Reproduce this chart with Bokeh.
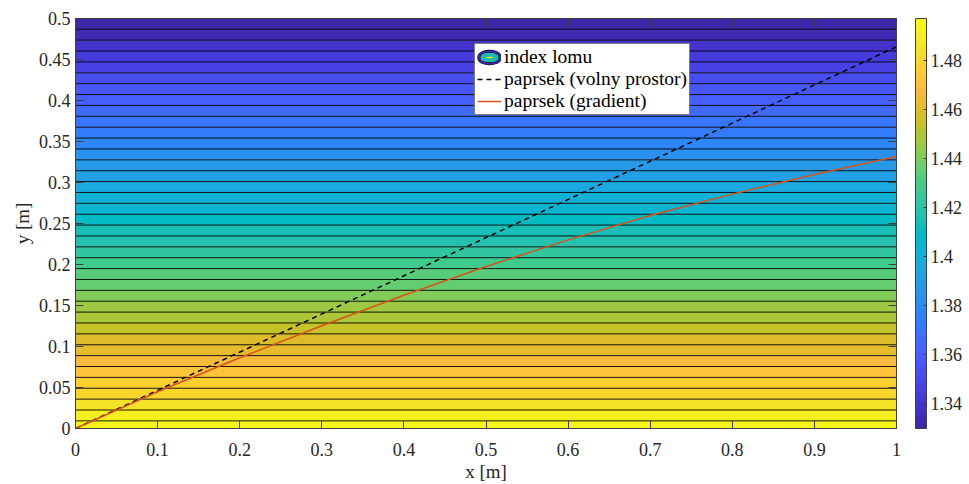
import numpy as np
from bokeh.plotting import figure
from bokeh.models import (Range1d, LinearAxis, FixedTicker, CustomJSTickFormatter, ColumnDataSource,
                          LinearColorMapper, ColorBar, Legend, LegendItem)
from bokeh.transform import transform
from bokeh.embed import file_html
from bokeh.resources import INLINE

# ---------------- data ----------------
# refractive-index profile n(y) (independent of x)
profile_y = [0.0, 0.5]
profile_n = [1.497, 1.33]
# contour levels of the index (equally spaced)
n_levels = np.round(np.linspace(1.3344, 1.4939, 37), 5)

# ray in free space (straight)
ray_free_x = [0.0, 1.0]
ray_free_y = [0.0, 0.4655]
# ray in the gradient medium
ray_grad_x = [0.0, 0.1, 0.2, 0.3, 0.4, 0.5, 0.6, 0.7, 0.8, 0.9, 1.0]
ray_grad_y = [0.0, 0.0448, 0.0862, 0.1253, 0.1625, 0.1975, 0.2300, 0.2597, 0.2858, 0.3098, 0.3317]

x_ticks = [0, 0.1, 0.2, 0.3, 0.4, 0.5, 0.6, 0.7, 0.8, 0.9, 1]
y_ticks = [0, 0.05, 0.1, 0.15, 0.2, 0.25, 0.3, 0.35, 0.4, 0.45, 0.5]
cb_ticks = [1.34, 1.36, 1.38, 1.4, 1.42, 1.44, 1.46, 1.48]

x_label = "x [m]"
y_label = "y [m]"
legend_labels = ["index lomu", "paprsek (volny prostor)", "paprsek (gradient)"]

# MATLAB parula (64)
parula_rgb = [
    (0.2422, 0.1504, 0.6603), (0.2504, 0.1650, 0.7076), (0.2578, 0.1818, 0.7511), (0.2647, 0.1978, 0.7952),
    (0.2706, 0.2147, 0.8364), (0.2751, 0.2342, 0.8710), (0.2783, 0.2559, 0.8991), (0.2803, 0.2782, 0.9221),
    (0.2813, 0.3006, 0.9414), (0.2810, 0.3228, 0.9579), (0.2795, 0.3447, 0.9717), (0.2760, 0.3667, 0.9829),
    (0.2699, 0.3892, 0.9906), (0.2602, 0.4123, 0.9952), (0.2440, 0.4358, 0.9988), (0.2206, 0.4603, 0.9973),
    (0.1963, 0.4847, 0.9892), (0.1834, 0.5074, 0.9798), (0.1786, 0.5289, 0.9682), (0.1764, 0.5499, 0.9520),
    (0.1687, 0.5703, 0.9359), (0.1540, 0.5902, 0.9218), (0.1460, 0.6091, 0.9079), (0.1380, 0.6276, 0.8973),
    (0.1248, 0.6459, 0.8883), (0.1113, 0.6635, 0.8763), (0.0952, 0.6798, 0.8598), (0.0689, 0.6948, 0.8394),
    (0.0297, 0.7082, 0.8163), (0.0036, 0.7203, 0.7917), (0.0067, 0.7312, 0.7660), (0.0433, 0.7411, 0.7394),
    (0.0964, 0.7500, 0.7120), (0.1408, 0.7584, 0.6842), (0.1717, 0.7670, 0.6554), (0.1938, 0.7758, 0.6251),
    (0.2161, 0.7843, 0.5923), (0.2470, 0.7918, 0.5567), (0.2906, 0.7973, 0.5188), (0.3406, 0.8008, 0.4789),
    (0.3909, 0.8029, 0.4354), (0.4456, 0.8024, 0.3909), (0.5044, 0.7993, 0.3480), (0.5616, 0.7942, 0.3045),
    (0.6174, 0.7876, 0.2612), (0.6720, 0.7793, 0.2227), (0.7242, 0.7698, 0.1910), (0.7738, 0.7598, 0.1646),
    (0.8203, 0.7498, 0.1535), (0.8634, 0.7406, 0.1596), (0.9035, 0.7330, 0.1774), (0.9393, 0.7288, 0.2100),
    (0.9728, 0.7298, 0.2394), (0.9956, 0.7434, 0.2371), (0.9970, 0.7659, 0.2199), (0.9952, 0.7893, 0.2028),
    (0.9892, 0.8136, 0.1885), (0.9786, 0.8386, 0.1766), (0.9676, 0.8639, 0.1643), (0.9610, 0.8890, 0.1537),
    (0.9597, 0.9135, 0.1423), (0.9628, 0.9373, 0.1265), (0.9691, 0.9606, 0.1064), (0.9769, 0.9839, 0.0805),
]
parula = ["#%02x%02x%02x" % tuple(int(round(c * 255)) for c in rgb) for rgb in parula_rgb]

FONT = "Liberation Serif"
TXT = "#262626"

# ---------------- derived band geometry (through interpolation of the profile) ----------------
prof_n_asc = np.array(profile_n[::-1])
prof_y_asc = np.array(profile_y[::-1])
level_y = np.sort(np.interp(n_levels, prof_n_asc, prof_y_asc))
edges = np.concatenate([[profile_y[0]], level_y, [profile_y[-1]]])
band_bottom = edges[:-1]
band_top = edges[1:]
band_val = np.interp(band_top, profile_y, profile_n)  # lower index value of each band

mapper = LinearColorMapper(palette=parula, low=min(profile_n), high=max(profile_n))

p = figure(frame_width=821, frame_height=410,
           x_range=Range1d(0, 1), y_range=Range1d(0, 0.5),
           output_backend="svg", toolbar_location=None,
           min_border_left=75, min_border_right=73, min_border_top=18, min_border_bottom=56,
           background_fill_color="white", border_fill_color="white")
p.grid.visible = False
p.outline_line_color = "#404040"
p.outline_line_width = 1

bands = ColumnDataSource(dict(bottom=band_bottom, top=band_top, val=band_val,
                              left=[0.0] * len(band_val), right=[1.0] * len(band_val)))
p.quad(left="left", right="right", bottom="bottom", top="top", source=bands,
       fill_color=transform("val", mapper), line_color=None)

lines = ColumnDataSource(dict(y=level_y, x0=[0.0] * len(level_y), x1=[1.0] * len(level_y)))
p.segment(x0="x0", y0="y", x1="x1", y1="y", source=lines, line_color="black", line_width=1, line_alpha=0.9)

r_free = p.line(ray_free_x, ray_free_y, line_color="black", line_width=1.5, line_dash="5 4")
r_grad = p.line(ray_grad_x, ray_grad_y, line_color="#D95319", line_width=1.5)

# legend icon for the contour (off-range glyphs; only the legend icon is visible)
ell = []
for lw, col, fill in [(10, "black", None), (9, parula[0], None), (5, "black", None), (4, "#1fb9b0", parula[-1])]:
    ell.append(p.ellipse(x=[-5], y=[-5], width=2.6, height=1, width_units="screen", height_units="screen",
                         fill_color=fill, line_color=col, line_width=lw))

legend = Legend(items=[LegendItem(label=legend_labels[0], renderers=ell),
                       LegendItem(label=legend_labels[1], renderers=[r_free]),
                       LegendItem(label=legend_labels[2], renderers=[r_grad])],
                location=(399, 313), label_text_font=FONT, label_text_font_size="19.5px",
                label_text_color="black", glyph_width=24, glyph_height=18, label_standoff=3,
                padding=2, spacing=-2, margin=0, border_line_color="black", border_line_width=1,
                background_fill_color="white", background_fill_alpha=1.0)
p.add_layout(legend, "center")

fmt = CustomJSTickFormatter(code="return tick.toString()")
empty = CustomJSTickFormatter(code="return ''")

def style_axis(ax, ticks, formatter):
    ax.ticker = FixedTicker(ticks=ticks)
    ax.formatter = formatter
    ax.major_tick_in = 8
    ax.major_tick_out = 0
    ax.minor_tick_line_color = None
    ax.axis_line_color = "#404040"
    ax.major_tick_line_color = "#404040"
    ax.major_label_text_font = FONT
    ax.major_label_text_font_size = "18px"
    ax.major_label_text_color = TXT
    ax.axis_label_text_font = FONT
    ax.axis_label_text_font_size = "19px"
    ax.axis_label_text_font_style = "normal"
    ax.axis_label_text_color = TXT

style_axis(p.xaxis[0], x_ticks, fmt)
style_axis(p.yaxis[0], y_ticks, fmt)
p.xaxis[0].major_label_standoff = 14
p.yaxis[0].major_label_standoff = 5
p.xaxis[0].axis_label = x_label
p.xaxis[0].axis_label_standoff = 2
p.yaxis[0].axis_label = y_label
p.yaxis[0].axis_label_standoff = 3

ax_top = LinearAxis()
style_axis(ax_top, x_ticks, empty)
p.add_layout(ax_top, "above")
ax_right = LinearAxis()
style_axis(ax_right, y_ticks, empty)
p.add_layout(ax_right, "right")

cb = ColorBar(color_mapper=mapper, ticker=FixedTicker(ticks=cb_ticks), formatter=fmt,
              width=11, height=410, padding=0, margin=0, location=(19, 0),
              label_standoff=4, major_tick_in=3, major_tick_out=0,
              major_tick_line_color="#404040", bar_line_color="#404040",
              major_label_text_font=FONT, major_label_text_font_size="18px",
              major_label_text_color=TXT, border_line_color=None, background_fill_alpha=0)
p.add_layout(cb, "right")

open("out.html", "w").write(file_html(p, INLINE))
